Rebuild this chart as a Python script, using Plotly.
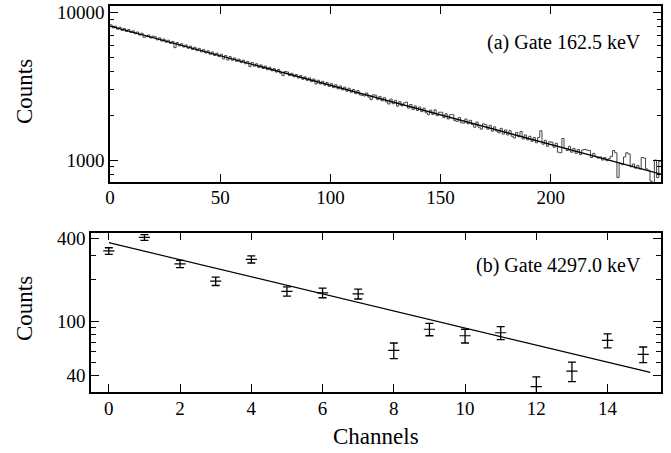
import plotly.graph_objects as go

# ---------------- Data ----------------
# (a) Gate 162.5 keV : histogram counts per channel (channels 0..249)
hist_counts_a = [
    8260, 7900, 8100, 7720, 7960, 7580, 7800, 7440, 7680, 7330,
    7520, 7180, 7390, 7040, 7250, 6800, 6870, 7050, 6730, 6930,
    6860, 6540, 6750, 6410, 6620, 6300, 6500, 6180, 6380, 5790,
    6270, 5950, 6150, 5840, 6040, 5730, 5930, 5620, 5820, 5520,
    5720, 5420, 5610, 5320, 5510, 5220, 5410, 5120, 5310, 5030,
    5220, 4850, 5120, 4770, 5030, 4760, 4930, 4670, 4840, 4580,
    4760, 4500, 4670, 4300, 4590, 4330, 4500, 4250, 4420, 4180,
    4340, 4100, 4260, 4030, 4180, 3950, 4110, 3880, 3740, 3990,
    3960, 3740, 3880, 3670, 3810, 3600, 3740, 3530, 3670, 3470,
    3610, 3400, 3550, 3280, 3480, 3280, 3420, 3220, 3360, 3160,
    3300, 3100, 3240, 3040, 3180, 2990, 3120, 2930, 3070, 2880,
    3010, 2820, 2960, 2770, 2740, 2720, 2850, 2670, 2570, 2770,
    2750, 2570, 2700, 2520, 2650, 2480, 2400, 2590, 2410, 2540,
    2320, 2490, 2330, 2440, 2470, 2250, 2380, 2200, 2330, 2170,
    2290, 2130, 2250, 2090, 2030, 2180, 2040, 2190, 2000, 2110,
    2110, 1940, 2060, 1900, 2030, 2030, 1850, 1830, 1940, 1790,
    1780, 1900, 1760, 1860, 1740, 1670, 1810, 1670, 1620, 1760,
    1740, 1620, 1720, 1570, 1680, 1570, 1530, 1640, 1500, 1600,
    1480, 1580, 1450, 1410, 1540, 1440, 1560, 1390, 1480, 1370,
    1450, 1340, 1420, 1310, 1420, 1580, 1280, 1360, 1240, 1330,
    1320, 1220, 1300, 1130, 1120, 1400, 1200, 1160, 1240, 1130,
    1200, 1110, 1180, 1090, 1170, 1180, 1170, 1160, 1040, 1110,
    1060, 1030, 1050, 1000, 1040, 990, 1020, 1060, 1160, 1120,
    760, 950, 930, 1050, 1120, 1100, 900, 940, 880, 920,
    870, 1040, 1030, 870, 850, 720, 700, 1000, 760, 980,
]
fit_a_x = [0, 250]
fit_a_y = [8100, 803]

# (b) Gate 4297.0 keV : points with errors
channels_b = [0, 1, 2, 3, 4, 5, 6, 7, 8, 9, 10, 11, 12, 13, 14, 15]
counts_b = [326, 410, 262, 196, 283, 165, 161, 158, 61, 87, 78, 82, 33, 43, 72, 57]
errors_b = [18, 20, 16, 14, 17, 13, 13, 13, 8, 9, 9, 9, 6, 7, 8.5, 7.5]
fit_b_x = [0, 15.2]
fit_b_y = [375, 42]

xticks_a = [0, 50, 100, 150, 200]
yticks_a = [1000, 10000]
yticklabels_a = ["1000", "10000"]
yminor_a = [800, 900, 2000, 3000, 4000, 5000, 6000, 7000, 8000, 9000]
xticks_b = [0, 2, 4, 6, 8, 10, 12, 14]
yticks_b = [40, 100, 400]
yminor_b = [30, 50, 60, 70, 80, 90, 200, 300]

# ---------------- Figure ----------------
W, H = 671, 453
FONT = "Liberation Serif, Times New Roman, DejaVu Serif, serif"

hist_x = list(range(len(hist_counts_a) + 1))
hist_y = hist_counts_a + [hist_counts_a[-1]]

fig = go.Figure()
fig.add_trace(go.Scatter(x=hist_x, y=hist_y, mode="lines", line_shape="hv",
                         line=dict(color="#444444", width=1), xaxis="x", yaxis="y",
                         showlegend=False, hoverinfo="skip"))
fig.add_trace(go.Scatter(x=fit_a_x, y=fit_a_y, mode="lines",
                         line=dict(color="black", width=1.3), xaxis="x", yaxis="y",
                         showlegend=False))
fig.add_trace(go.Scatter(x=fit_b_x, y=fit_b_y, mode="lines",
                         line=dict(color="black", width=1.2), xaxis="x2", yaxis="y2",
                         showlegend=False))
fig.add_trace(go.Scatter(x=channels_b, y=counts_b, mode="markers",
                         marker=dict(symbol="line-ew", size=8, color="black",
                                     line=dict(color="black", width=1.2)),
                         error_y=dict(type="data", array=errors_b, visible=True,
                                      color="black", thickness=1.3, width=4),
                         xaxis="x2", yaxis="y2", showlegend=False))


def px_x(v):
    return v / W


def px_y(v):
    return 1 - v / H


common = dict(showline=True, linecolor="black", linewidth=1.5, mirror="ticks",
              ticks="inside", tickcolor="black", tickwidth=1, ticklen=8,
              showgrid=False, zeroline=False, automargin=False,
              tickfont=dict(family=FONT, size=19, color="black"))

fig.update_layout(
    width=W, height=H,
    margin=dict(l=0, r=0, t=0, b=0, autoexpand=False),
    paper_bgcolor="white", plot_bgcolor="white",
    font=dict(family=FONT, color="black"),
    xaxis=dict(domain=[px_x(110), px_x(661)], range=[0, 250],
               tickmode="array", tickvals=xticks_a, anchor="y",
               ticklabelstandoff=-3, **common),
    yaxis=dict(domain=[px_y(182), px_y(6)], type="log", range=[2.851, 4.045],
               tickmode="array", tickvals=yticks_a, ticktext=yticklabels_a, anchor="x",
               minor=dict(tickmode="array", tickvals=yminor_a, ticks="inside", ticklen=4,
                          tickcolor="black", tickwidth=1, showgrid=False), **common),
    xaxis2=dict(domain=[px_x(91), px_x(661)], range=[-0.5, 15.5],
                tickmode="array", tickvals=xticks_b, anchor="y2",
                ticklabelstandoff=-1, **common),
    yaxis2=dict(domain=[px_y(391.7), px_y(232.7)], type="log", range=[1.482, 2.647],
                tickmode="array", tickvals=yticks_b, anchor="x2",
                minor=dict(tickmode="array", tickvals=yminor_b, ticks="inside", ticklen=5,
                           tickcolor="black", tickwidth=1, showgrid=False), **common),
    annotations=[
        dict(text="(a) Gate 162.5 keV", x=px_x(643), y=px_y(42), xref="paper", yref="paper",
             xanchor="right", yanchor="middle", showarrow=False,
             font=dict(family=FONT, size=20, color="black")),
        dict(text="(b) Gate 4297.0 keV", x=px_x(643), y=px_y(265), xref="paper", yref="paper",
             xanchor="right", yanchor="middle", showarrow=False,
             font=dict(family=FONT, size=20, color="black")),
        dict(text="Counts", x=px_x(24), y=px_y(92), xref="paper", yref="paper",
             xanchor="center", yanchor="middle", textangle=-90, showarrow=False,
             font=dict(family=FONT, size=23, color="black")),
        dict(text="Counts", x=px_x(24), y=px_y(309), xref="paper", yref="paper",
             xanchor="center", yanchor="middle", textangle=-90, showarrow=False,
             font=dict(family=FONT, size=23, color="black")),
        dict(text="Channels", x=px_x(376), y=px_y(436), xref="paper", yref="paper",
             xanchor="center", yanchor="middle", showarrow=False,
             font=dict(family=FONT, size=23, color="black")),
    ],
)

fig.write_html("out.html", config={"displayModeBar": False},
               post_script="document.body.style.margin='0';document.body.style.padding='0';")
